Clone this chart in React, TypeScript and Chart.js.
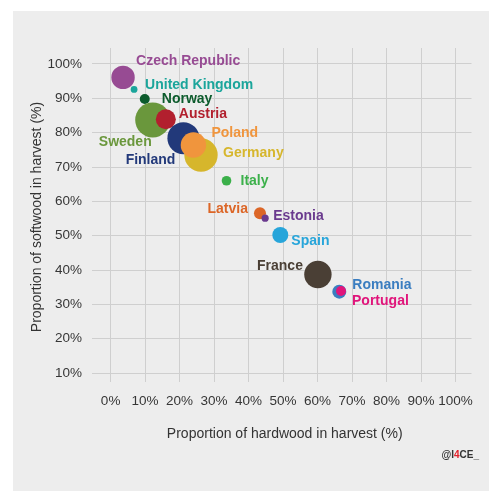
import { useEffect, useRef } from "react";
import { Chart, registerables } from "chart.js";

Chart.register(...registerables);

// ---- data ----
const countries = [
  "Czech Republic",
  "United Kingdom",
  "Norway",
  "Sweden",
  "Austria",
  "Finland",
  "Germany",
  "Poland",
  "Italy",
  "Latvia",
  "Estonia",
  "Spain",
  "France",
  "Romania",
  "Portugal",
];
const hardwoodShare = [3.6, 6.8, 9.9, 12.2, 16.0, 21.1, 26.2, 24.0, 33.6, 43.3, 44.8, 49.2, 60.1, 66.3, 66.8];
const softwoodShare = [96.1, 92.6, 89.8, 83.7, 83.9, 78.4, 73.5, 76.4, 66.0, 56.5, 55.1, 50.2, 38.7, 33.7, 33.9];
const bubbleRadius = [11.7, 3.4, 5, 17.5, 10, 16, 16.7, 12.7, 4.8, 6, 3.6, 8, 13.7, 7, 5];
const xTickValues = [0, 10, 20, 30, 40, 50, 60, 70, 80, 90, 100];
const yTickValues = [10, 20, 30, 40, 50, 60, 70, 80, 90, 100];

// ---- styles ----
const colors = [
  "#974b93",
  "#1ba59b",
  "#0c5b2c",
  "#6a973c",
  "#b2202e",
  "#22397a",
  "#d6b62c",
  "#f0953d",
  "#3bb04a",
  "#dc6627",
  "#6a3a8e",
  "#27a5da",
  "#4a3f35",
  "#3a7dc0",
  "#e0157b",
];
// label placement relative to bubble centre (pixels)
const labelPlacement: { dx: number; dy: number; align: CanvasTextAlign }[] = [
  { dx: 13, dy: -16, align: "left" },
  { dx: 11, dy: -4, align: "left" },
  { dx: 17, dy: 0, align: "left" },
  { dx: -1, dy: 22, align: "right" },
  { dx: 13, dy: -5, align: "left" },
  { dx: -8, dy: 22, align: "right" },
  { dx: 22, dy: -2, align: "left" },
  { dx: 18, dy: -12, align: "left" },
  { dx: 14, dy: 0, align: "left" },
  { dx: -12, dy: -4, align: "right" },
  { dx: 8, dy: -2, align: "left" },
  { dx: 11, dy: 6, align: "left" },
  { dx: -15, dy: -8, align: "right" },
  { dx: 13, dy: -6, align: "left" },
  { dx: 11, dy: 10, align: "left" },
];

const FONT = "'Liberation Sans', Helvetica, Arial, sans-serif";

const labelsPlugin = {
  id: "bubbleLabels",
  afterDatasetsDraw(chart: any) {
    const ctx = chart.ctx as CanvasRenderingContext2D;
    const meta = chart.getDatasetMeta(0);
    ctx.save();
    ctx.font = `bold 14px ${FONT}`;
    ctx.textBaseline = "middle";
    meta.data.forEach((el: any, i: number) => {
      const p = labelPlacement[i];
      ctx.fillStyle = colors[i];
      ctx.textAlign = p.align;
      ctx.fillText(countries[i], el.x + p.dx, el.y + p.dy);
    });
    ctx.restore();
  },
  afterDraw(chart: any) {
    const ctx = chart.ctx as CanvasRenderingContext2D;
    const area = chart.chartArea;
    ctx.save();
    ctx.fillStyle = "#333333";
    ctx.font = `14px ${FONT}`;
    ctx.textAlign = "center";
    ctx.textBaseline = "middle";
    ctx.fillText("Proportion of hardwood in harvest (%)", (area.left + area.right) / 2 + 3, 423);
    ctx.translate(24, (area.top + area.bottom) / 2 + 2);
    ctx.rotate(-Math.PI / 2);
    ctx.fillText("Proportion of softwood in harvest (%)", 0, 0);
    ctx.restore();

    // credit
    ctx.save();
    ctx.font = `bold 10px ${FONT}`;
    ctx.textBaseline = "middle";
    ctx.textAlign = "left";
    const parts = [
      { t: "@I", c: "#333333" },
      { t: "4", c: "#e2202a" },
      { t: "CE_", c: "#333333" },
    ];
    const total = parts.reduce((s, p) => s + ctx.measureText(p.t).width, 0);
    let x = 466 - total;
    parts.forEach((p) => {
      ctx.fillStyle = p.c;
      ctx.fillText(p.t, x, 444);
      x += ctx.measureText(p.t).width;
    });
    ctx.restore();
  },
};

export default function App() {
  const ref = useRef<HTMLCanvasElement | null>(null);

  useEffect(() => {
    if (!ref.current) return;
    const data = countries.map((_, i) => ({
      x: hardwoodShare[i],
      y: softwoodShare[i],
      r: bubbleRadius[i],
    }));
    const chart = new Chart(ref.current, {
      type: "bubble",
      data: {
        datasets: [
          {
            data,
            backgroundColor: colors,
            borderWidth: 0,
            hoverBorderWidth: 0,
          },
        ],
      },
      plugins: [labelsPlugin],
      options: {
        animation: false,
        responsive: true,
        maintainAspectRatio: false,
        events: [],
        layout: { padding: { top: 37, right: 10, left: 0, bottom: 0 } },
        plugins: {
          legend: { display: false },
          tooltip: { enabled: false },
        },
        scales: {
          x: {
            type: "linear",
            min: -5.4,
            max: 104.63,
            afterBuildTicks: (scale: any) => {
              scale.ticks = xTickValues.map((v) => ({ value: v }));
            },
            afterFit: (scale: any) => {
              scale.height = 109;
            },
            border: { display: false },
            grid: { color: "#cfcfcf", lineWidth: 1, drawTicks: false },
            ticks: {
              padding: 11,
              color: "#363636",
              font: { family: FONT, size: 13.5 },
              maxRotation: 0,
              autoSkip: false,
              callback: (v: any) => `${v}%`,
            },
          },
          y: {
            type: "linear",
            min: 7.38,
            max: 104.66,
            afterBuildTicks: (scale: any) => {
              scale.ticks = yTickValues.map((v) => ({ value: v }));
            },
            afterFit: (scale: any) => {
              scale.width = 79;
            },
            border: { display: false },
            grid: { color: "#cfcfcf", lineWidth: 1, drawTicks: false },
            ticks: {
              padding: 10,
              color: "#363636",
              font: { family: FONT, size: 13.5 },
              autoSkip: false,
              callback: (v: any) => `${v}%`,
            },
          },
        },
      },
    });
    return () => chart.destroy();
  }, []);

  return (
    <div
      style={{
        position: "absolute",
        left: 13,
        top: 11,
        width: 476,
        height: 480,
        background: "#ededed",
      }}
    >
      <canvas ref={ref} />
    </div>
  );
}
